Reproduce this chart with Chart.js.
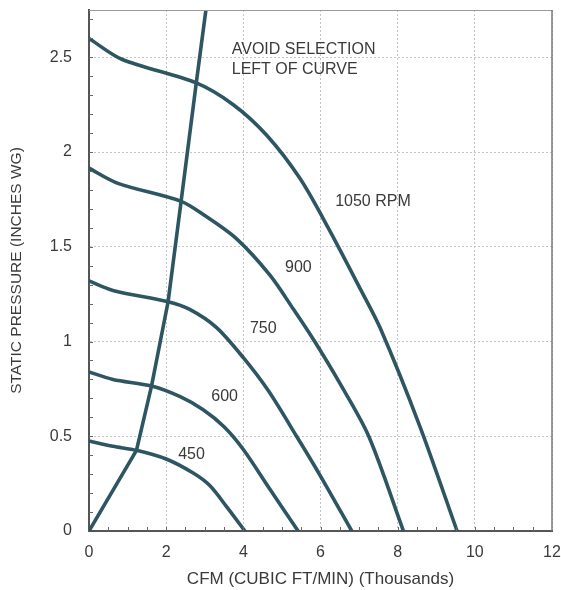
<!DOCTYPE html>
<html>
<head>
<meta charset="utf-8">
<script src="https://cdn.jsdelivr.net/npm/chart.js@4/dist/chart.umd.min.js"></script>
<style>
  html, body { margin: 0; padding: 0; background: #ffffff; }
  #wrap { width: 561px; height: 590px; }
</style>
</head>
<body>
<div id="wrap"><canvas id="c" width="561" height="590"></canvas></div>
<script>
// ---- data (CFM in thousands, static pressure in inches WG) ----
const rpm1050X = [0, 0.85, 2.78, 3.74, 4.6, 5.47, 6.2, 7.0, 7.55, 8.58, 9.54];
const rpm1050Y = [2.60, 2.49, 2.365, 2.25, 2.09, 1.86, 1.60, 1.29, 1.07, 0.55, 0];

const rpm900X = [0, 0.75, 2.39, 3.0, 3.82, 4.69, 5.3, 5.85, 6.5, 7.25, 8.15];
const rpm900Y = [1.915, 1.835, 1.74, 1.665, 1.543, 1.35, 1.17, 1.0, 0.78, 0.5, 0];

const rpm750X = [0, 0.62, 2.05, 2.61, 3.30, 4.0, 4.65, 5.38, 6.0, 6.81];
const rpm750Y = [1.32, 1.27, 1.21, 1.17, 1.075, 0.915, 0.74, 0.5, 0.29, 0];

const rpm600X = [0, 0.62, 1.62, 2.35, 2.96, 3.5, 4.0, 4.69, 5.42];
const rpm600Y = [0.84, 0.80, 0.765, 0.71, 0.64, 0.55, 0.43, 0.22, 0];

const rpm450X = [0, 0.62, 1.23, 2.0, 2.7, 3.13, 3.56, 4.04];
const rpm450Y = [0.475, 0.447, 0.426, 0.38, 0.306, 0.24, 0.13, 0];

const avoidX = [0, 1.23, 1.62, 2.05, 2.39, 2.78, 3.03];
const avoidY = [0, 0.426, 0.765, 1.21, 1.745, 2.365, 2.75];

const xTickStep = 2;      // thousands CFM
const yTickStep = 0.5;    // inches WG
const xMax = 12;
const yMax = 2.75;

const noteText = ['AVOID SELECTION', 'LEFT OF CURVE', '1050 RPM', '900', '750', '600', '450'];
const noteX    = [3.70, 3.70, 6.38, 5.08, 4.17, 3.17, 2.31];
const noteY    = [2.542, 2.435, 1.737, 1.389, 1.066, 0.708, 0.403];

const xTitle = 'CFM (CUBIC FT/MIN) (Thousands)';
const yTitle = 'STATIC PRESSURE (INCHES WG)';

// ---- helpers ----
function pts(xs, ys) { return xs.map((x, i) => ({ x: x, y: ys[i] })); }
const LINE = '#2d5662';
const FONT = "'Liberation Sans', Arial, sans-serif";
function ds(label, xs, ys, tension) {
  return {
    label: label, data: pts(xs, ys), borderColor: LINE, borderWidth: 3.6,
    pointRadius: 0, tension: tension, fill: false, borderJoinStyle: 'round', borderCapStyle: 'round'
  };
}
function fmt(v) { return String(+Number(v).toFixed(2)); }

const notesPlugin = {
  id: 'notes',
  afterDatasetsDraw(chart) {
    const { ctx, scales: { x, y } } = chart;
    ctx.save();
    ctx.font = '16px ' + FONT;
    ctx.fillStyle = '#3a3a3a';
    ctx.textAlign = 'left';
    ctx.textBaseline = 'middle';
    noteText.forEach((t, i) => {
      ctx.fillText(t, x.getPixelForValue(noteX[i]), y.getPixelForValue(noteY[i]));
    });
    ctx.restore();
  }
};

const framePlugin = {
  id: 'frame',
  afterDraw(chart) {
    const { ctx, chartArea: a, scales: { x, y } } = chart;
    ctx.save();
    ctx.strokeStyle = '#9a9a9a';
    ctx.lineWidth = 1.2;
    ctx.beginPath();
    ctx.moveTo(a.left, a.top + 0.5); ctx.lineTo(a.right, a.top + 0.5);
    ctx.stroke();
    ctx.strokeStyle = '#7a7a7a';
    ctx.lineWidth = 1.5;
    ctx.beginPath();
    ctx.moveTo(a.right, a.top); ctx.lineTo(a.right, a.bottom);
    ctx.stroke();
    ctx.strokeStyle = '#666';
    ctx.lineWidth = 1;
    ctx.beginPath();
    for (let v = 0.1; v < yMax; v += 0.1) {
      const py = Math.round(y.getPixelForValue(v)) + 0.5;
      ctx.moveTo(a.left, py); ctx.lineTo(a.left + 4, py);
    }
    for (let v = 0.5; v < xMax; v += 0.5) {
      const px = Math.round(x.getPixelForValue(v)) + 0.5;
      ctx.moveTo(px, a.bottom); ctx.lineTo(px, a.bottom - 4);
    }
    ctx.stroke();
    ctx.restore();
  }
};

new Chart(document.getElementById('c'), {
  type: 'line',
  data: {
    datasets: [
      ds('1050 RPM', rpm1050X, rpm1050Y, 0.3),
      ds('900 RPM', rpm900X, rpm900Y, 0.3),
      ds('750 RPM', rpm750X, rpm750Y, 0.3),
      ds('600 RPM', rpm600X, rpm600Y, 0.3),
      ds('450 RPM', rpm450X, rpm450Y, 0.3),
      ds('Avoid selection', avoidX, avoidY, 0)
    ]
  },
  options: {
    responsive: false,
    animation: false,
    events: [],
    layout: { padding: { left: 0, right: 9, top: 10, bottom: 0 } },
    plugins: { legend: { display: false }, tooltip: { enabled: false } },
    scales: {
      x: {
        type: 'linear', min: 0, max: xMax,
        afterFit(s) { s.height = 59; s.paddingLeft = 0; s.paddingRight = 0; },
        ticks: { stepSize: xTickStep, padding: 12, color: '#3a3a3a', font: { family: FONT, size: 16 }, callback: fmt },
        grid: { color: '#c4c4c4', drawTicks: false, lineWidth: 1 },
        border: { color: '#555', width: 2, dash: [2, 2] },
        title: { display: true, text: xTitle, color: '#3a3a3a', font: { family: FONT, size: 17 }, padding: { top: 2, bottom: 0 } }
      },
      y: {
        type: 'linear', min: 0, max: yMax,
        afterFit(s) { s.width = 89; s.paddingTop = 0; s.paddingBottom = 0; },
        afterBuildTicks(s) {
          s.ticks = s.ticks.filter(t => Math.abs(t.value / yTickStep - Math.round(t.value / yTickStep)) < 1e-6);
        },
        ticks: { stepSize: yTickStep, padding: 17, color: '#3a3a3a', font: { family: FONT, size: 16 }, callback: fmt },
        grid: { color: '#c4c4c4', drawTicks: false, lineWidth: 1 },
        border: { color: '#555', width: 2, dash: [2, 2] },
        title: { display: true, text: yTitle, color: '#3a3a3a', font: { family: FONT, size: 15.5 }, padding: { top: 7, bottom: 0 } }
      }
    }
  },
  plugins: [notesPlugin, framePlugin]
});
</script>
</body>
</html>
